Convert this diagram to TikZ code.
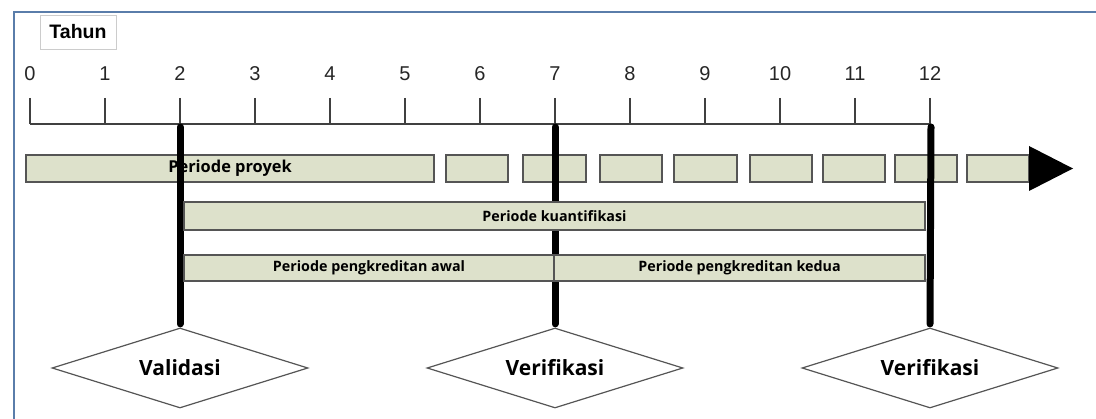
\documentclass[tikz,border=0pt]{standalone}
\usepackage{fontspec}
\usepackage{tikz}
\usetikzlibrary{shapes.geometric}
\usepackage{xcolor}
\newfontfamily\barfont{Open Sans}
\newfontfamily\axisfont{Liberation Sans}
\definecolor{barfill}{HTML}{DDE1CB}
\definecolor{barline}{HTML}{555555}
\definecolor{frameblue}{HTML}{5A7DAA}
\tikzset{
	bar/.style={draw=barline, line width=1.3pt, fill=barfill, inner sep=0pt, font=\barfont\bfseries\fontsize{14.3}{16}\selectfont},
	check/.style={diamond, draw=barline, line width=1.2pt, fill=white, inner sep=0pt, aspect=3.2, minimum width=256pt, minimum height=80pt, font=\barfont\bfseries\fontsize{21}{24}\selectfont},
	marker/.style={line width=7pt, line cap=round, shorten >=3.5pt},
}

\begin{document}
\begin{tikzpicture}[x=1pt, y=-1pt]
		\useasboundingbox (0,0) rectangle (1096,419);
		% frame
		\draw [frameblue, line width=1.6pt] (14,419) -- (14,12) -- (1096,12);
		\node (tahun) [draw=black!20, line width=0.8pt, fill=white, minimum width=76pt, minimum height=34pt, inner sep=0pt, font=\axisfont\bfseries\fontsize{19.5}{21}\selectfont] at (78,32) {Tahun};
		%
		\begin{scope}[color=black!75, line width=1.3pt]
			\draw (30,124) -- (930,124);
			\foreach \i in {0,...,12}{
				\draw (30+75*\i,98) -- (30+75*\i,124);
				\node (n\i) [black!85, font=\axisfont\fontsize{20}{22}\selectfont] at (30+75*\i,74) {\i};
			}
		\end{scope}
		%
		\node (val) [check] at (180,368) {Validasi};
		\node (ver1) [check] at (555,368) {Verifikasi};
		\node (ver2) [check] at (930,368) {Verifikasi};
		%
		\node (proyek) [bar, minimum width=408pt, minimum height=27pt, font=\barfont\bfseries\fontsize{16.4}{18}\selectfont] at (230,168.5) {Periode proyek};
		\foreach \a/\b in {446/508, 523/586, 600/662, 674/737, 750/812, 823/885, 895/957, 967/1029}{
			\node (seg\a) [bar, minimum width=\b-\a, minimum height=27pt] at ({(\a+\b)/2},168.5) {};
		}
		\fill (1029,146) -- (1073,168.5) -- (1029,191) -- cycle;
		%
		\coordinate (t2) at (180,127);
		\coordinate (t7) at (555,127);
		\coordinate (t12) at (931,127);
		\draw [marker] (t2) -- (val.north);
		\draw [marker] (t7) -- (ver1.north);
		\draw [marker] (t12) -- (ver2.north);
		%
		\node (kuant) [bar, minimum width=741pt, minimum height=28pt] at (554.5,216) {Periode kuantifikasi};
		\node (awal) [bar, minimum width=370pt, minimum height=26pt] at (369,268) {Periode pengkreditan awal};
		\node (kedua) [bar, minimum width=371pt, minimum height=26pt] at (739.5,268) {Periode pengkreditan kedua};
	\end{tikzpicture}
\end{document}
